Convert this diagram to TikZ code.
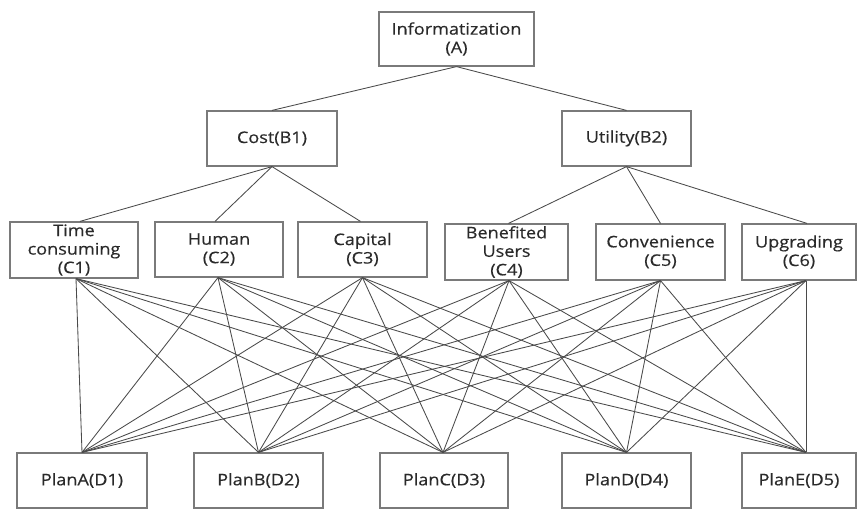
\documentclass[tikz,border=0pt]{standalone}
\usepackage{fontspec}
\setmainfont{Open Sans}[FakeStretch=1.13,FakeBold=0.4]
\definecolor{boxgray}{HTML}{7A7A7A}
\definecolor{linegray}{HTML}{4A4A4A}
\definecolor{textgray}{HTML}{2A2A2A}
\begin{document}
\begin{tikzpicture}[x=1pt,y=-1pt,
  box/.style={draw=boxgray, line width=1.2pt, align=center, inner sep=0pt,
    font=\fontsize{16}{18.5}\selectfont, text=textgray},
  link/.style={draw=linegray, line width=0.85pt}]
\useasboundingbox[fill=white] (0,0) rectangle (859,524);
% level A
\node[box, minimum width=155pt, minimum height=54pt] (A) at (456.5,39) {Informatization\\(A)};
% level B
\node[box, minimum width=130pt, minimum height=55pt] (B1) at (272,138.5) {Cost(B1)};
\node[box, minimum width=129pt, minimum height=55pt] (B2) at (626.5,138.5) {Utility(B2)};
% level C
\node[box, minimum width=128pt, minimum height=56pt] (C1) at (74,250) {Time\\consuming\\(C1)};
\node[box, minimum width=128pt, minimum height=55pt] (C2) at (219,249.5) {Human\\(C2)};
\node[box, minimum width=129pt, minimum height=55pt] (C3) at (362.5,249.5) {Capital\\(C3)};
\node[box, minimum width=123pt, minimum height=56pt] (C4) at (506.5,252) {Benefited\\Users\\(C4)};
\node[box, minimum width=129pt, minimum height=56pt] (C5) at (660.5,252) {Convenience\\(C5)};
\node[box, minimum width=114pt, minimum height=56pt] (C6) at (799,252) {Upgrading\\(C6)};
% level D
\node[box, minimum width=130pt, minimum height=55pt] (D1) at (82,480.5) {PlanA(D1)};
\node[box, minimum width=129pt, minimum height=55pt] (D2) at (258.5,480.5) {PlanB(D2)};
\node[box, minimum width=128pt, minimum height=55pt] (D3) at (444,480.5) {PlanC(D3)};
\node[box, minimum width=129pt, minimum height=55pt] (D4) at (626.5,480.5) {PlanD(D4)};
\node[box, minimum width=114pt, minimum height=55pt] (D5) at (799,480.5) {PlanE(D5)};
% A -> B
\draw[link] (A.south) -- (B1.north);
\draw[link] (A.south) -- (B2.north);
% B -> C
\draw[link] (B1.south) -- ([xshift=6pt]C1.north);
\draw[link] (B1.south) -- ([xshift=-4pt]C2.north);
\draw[link] (B1.south) -- ([xshift=-2pt]C3.north);
\draw[link] (B2.south) -- ([xshift=2pt]C4.north);
\draw[link] (B2.south) -- (C5.north);
\draw[link] (B2.south) -- ([xshift=8pt]C6.north);
% C -> D
\foreach \c/\cx in {C1/2,C2/-1,C3/0,C4/2.5,C5/0,C6/7}
  \foreach \d/\dx in {D1/0,D2/0,D3/-1,D4/0,D5/7}
    \draw[link] ([xshift=\cx pt]\c.south) -- ([xshift=\dx pt]\d.north);
\end{tikzpicture}
\end{document}
